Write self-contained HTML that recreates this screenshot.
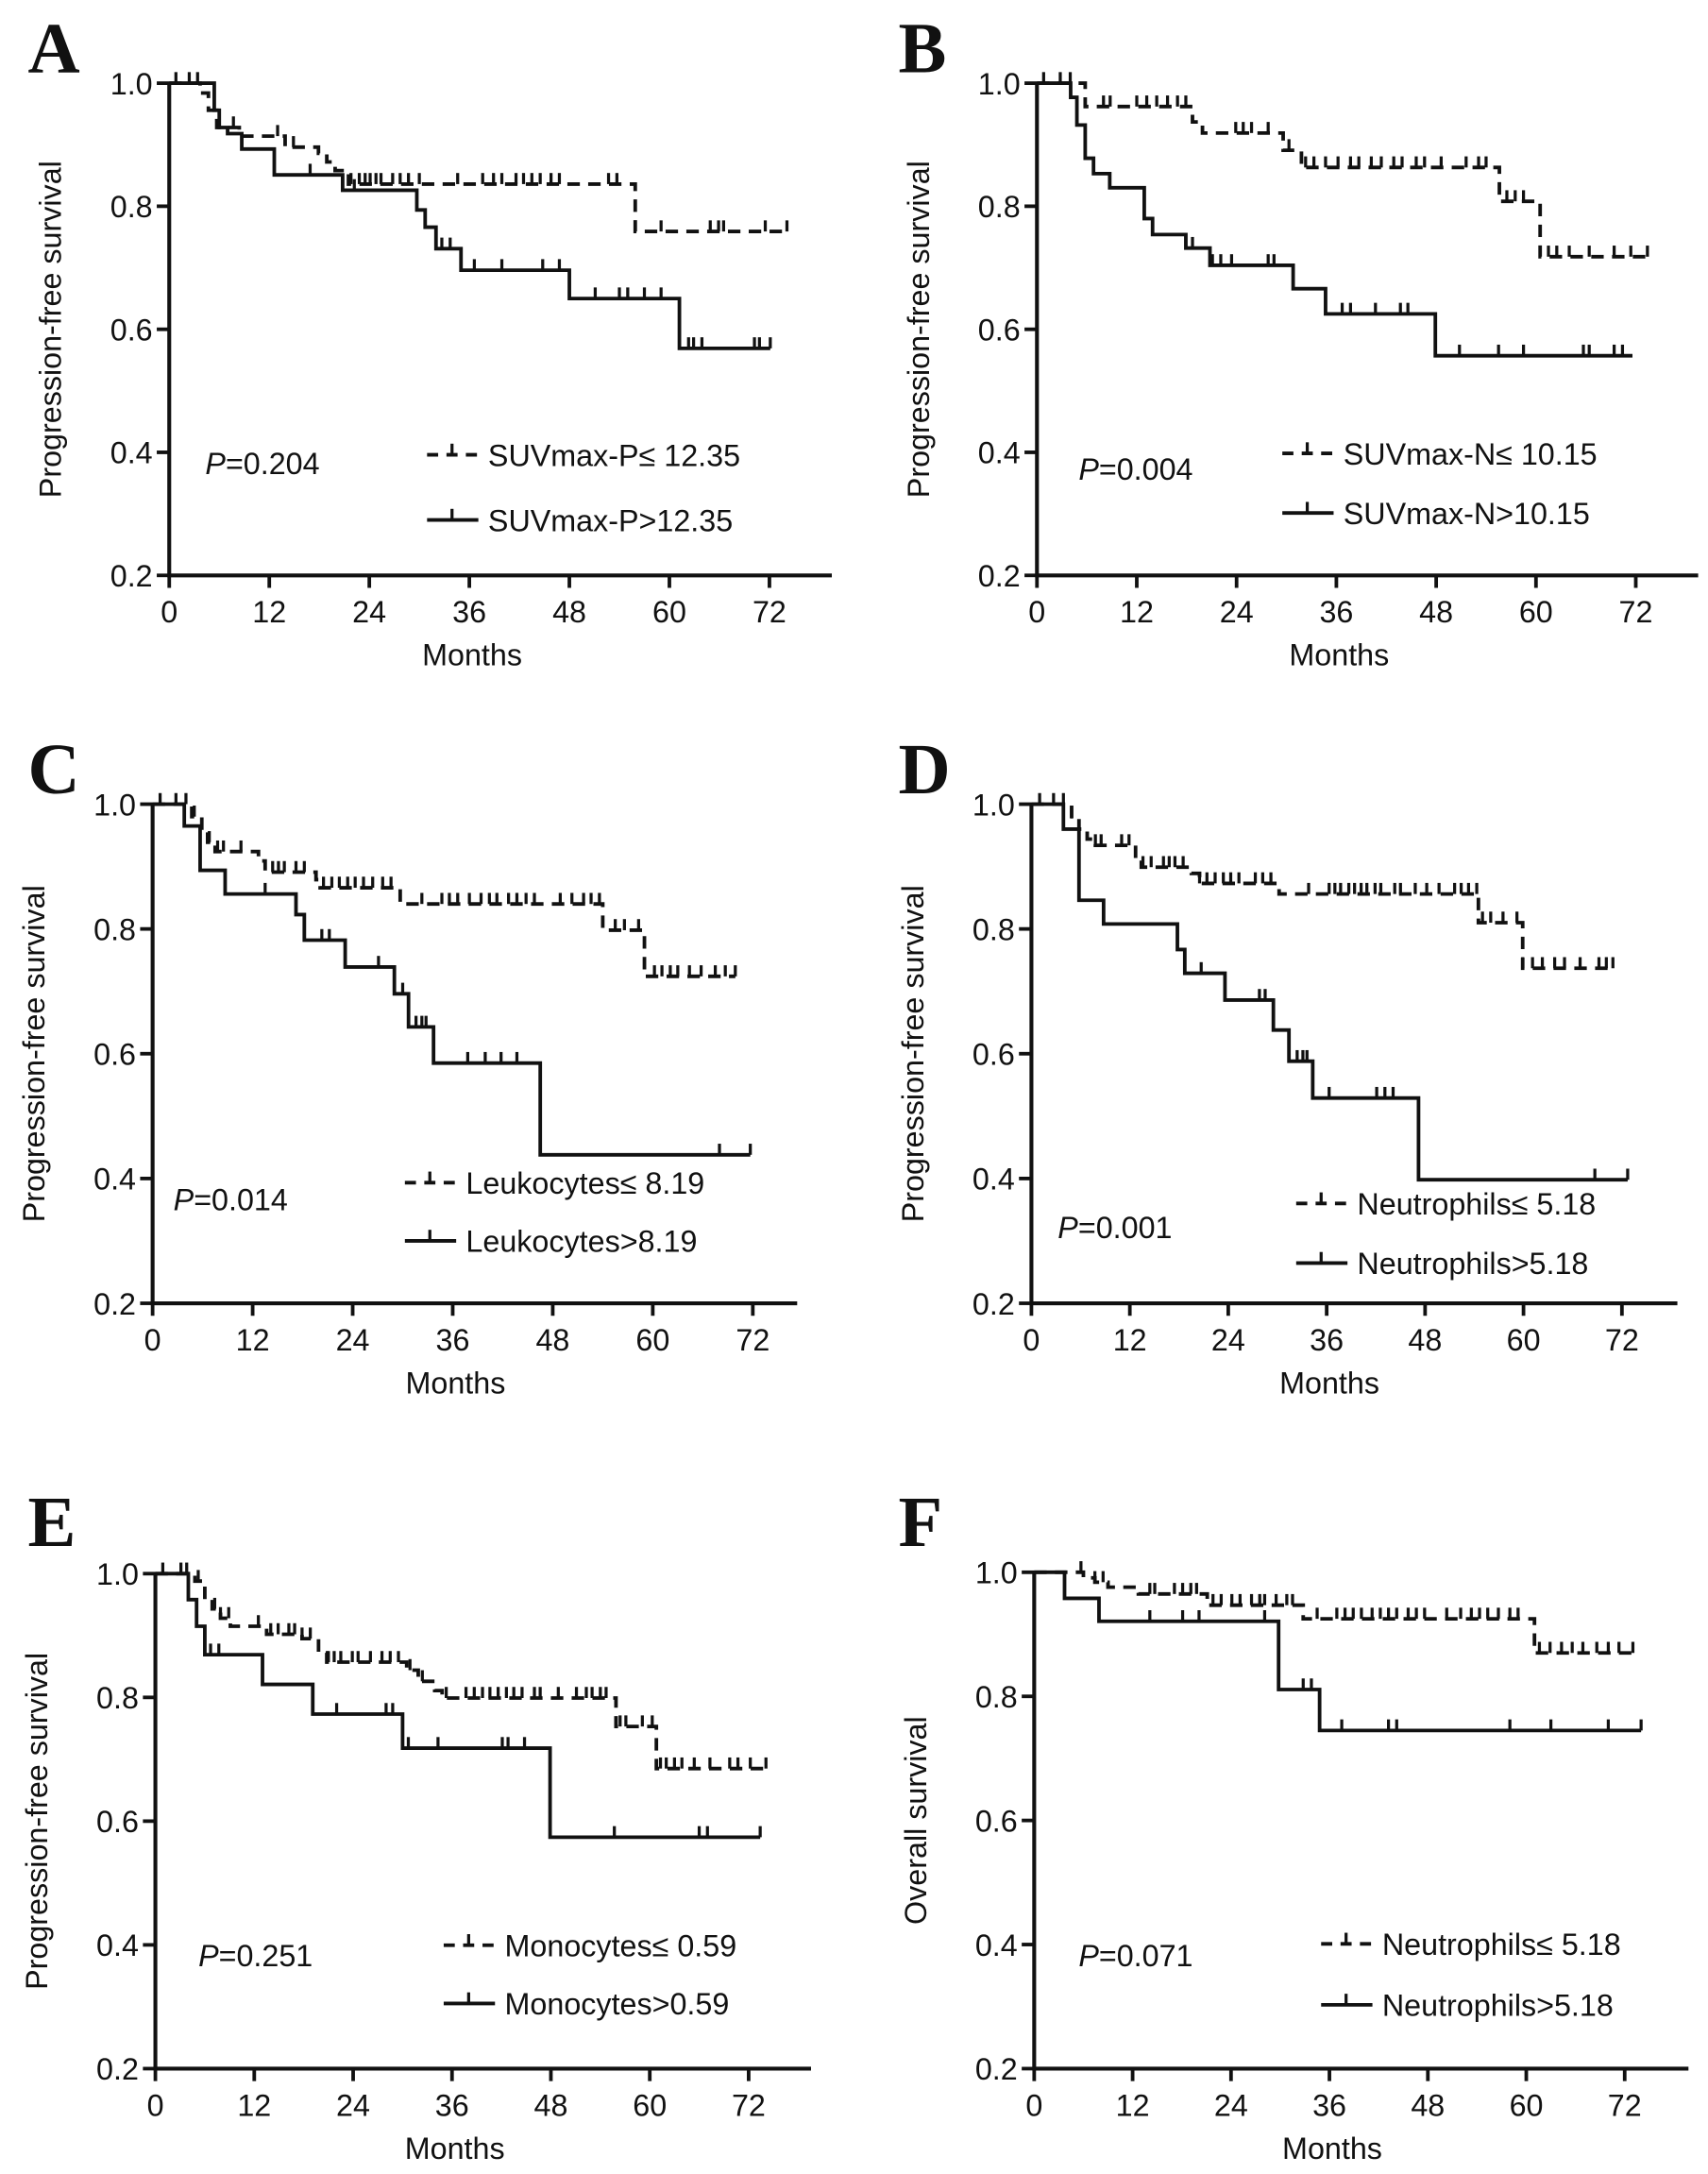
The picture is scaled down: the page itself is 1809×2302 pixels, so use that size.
<!DOCTYPE html>
<html><head><meta charset="utf-8"><title>Kaplan-Meier curves</title>
<style>
html,body{margin:0;padding:0;background:#fff;}
svg{display:block;}
text{font-family:"Liberation Sans",Arial,sans-serif;fill:#111;}
.lt{font-family:"Liberation Serif","Times New Roman",serif;font-weight:bold;}
</style></head>
<body>
<svg id="fig" width="1809" height="2302" viewBox="0 0 1232 1568" xmlns="http://www.w3.org/2000/svg"></svg>
<script>
// ---------- data (months, survival) ----------
const xTicks = [0, 12, 24, 36, 48, 60, 72];
const yTicks = [0.2, 0.4, 0.6, 0.8, 1.0];
const yTickLabels = ["0.2", "0.4", "0.6", "0.8", "1.0"];

// Panel A
const aLowT = [3.7, 4.7, 5.7, 8.4, 13.9, 17.9, 18.9, 19.9, 21.5, 55.9];
const aLowS = [0.984, 0.956, 0.928, 0.914, 0.896, 0.886, 0.872, 0.858, 0.836, 0.759];
const aLowEnd = 74.1;
const aLowC = [0.8, 2.4, 3.4, 7.7, 13, 14.9, 21.8, 22.8, 23.5, 24.1, 24.8, 25.4, 26.8, 27.7, 28.7, 30, 34.6, 37.6, 38.9, 39.9, 41.6, 42.5, 43.5, 44.5, 45.8, 46.8, 52.7, 53.7, 59, 64.9, 65.9, 66.5, 71.5, 74.1];
const aHighT = [5.4, 6.0, 7.0, 8.7, 12.6, 20.8, 29.7, 30.7, 32, 35, 48, 61.2];
const aHighS = [0.956, 0.928, 0.918, 0.893, 0.851, 0.826, 0.794, 0.766, 0.731, 0.696, 0.65, 0.569];
const aHighEnd = 72.1;
const aHighC = [16.9, 22.2, 32.7, 33.7, 36.6, 39.9, 44.8, 46.8, 51.1, 54, 55, 57, 59, 62.3, 62.9, 63.9, 70.2, 70.8, 72.1];

// Panel B
const bLowT = [5.8, 18.7, 19.9, 29.6, 31.8, 55.6, 60.5];
const bLowS = [0.962, 0.937, 0.919, 0.891, 0.863, 0.808, 0.718];
const bLowEnd = 73.6;
const bLowC = [0.8, 2.8, 4.0, 8.0, 8.8, 12, 13.2, 14.4, 15.7, 16.9, 17.9, 23.9, 24.8, 25.8, 27.8, 30.3, 32.3, 33.3, 34.7, 36.2, 37.7, 38.7, 40.2, 41.4, 42.9, 43.9, 45.6, 46.6, 48.6, 51.6, 53.1, 54, 56.5, 57.5, 58.5, 61.5, 62.5, 64, 66.4, 69.4, 71.4, 73.4];
const bHighT = [4.05, 4.8, 5.8, 6.8, 8.75, 12.9, 13.9, 17.9, 20.8, 30.8, 34.7, 47.9];
const bHighS = [0.977, 0.932, 0.878, 0.853, 0.83, 0.78, 0.754, 0.732, 0.704, 0.666, 0.625, 0.557];
const bHighEnd = 71.6;
const bHighC = [18.7, 21.1, 22.1, 23.4, 27.8, 28.5, 36.7, 37.7, 40.7, 43.7, 44.6, 50.8, 55.5, 58.5, 65.7, 66.4, 69.4, 70.4];

// Panel C
const cLowT = [4.7, 5.9, 6.6, 7.5, 12.7, 13.5, 19.6, 20.1, 29.7, 54, 59];
const cLowS = [0.98, 0.955, 0.939, 0.924, 0.909, 0.891, 0.879, 0.866, 0.84, 0.798, 0.724];
const cLowEnd = 69.9;
const cLowC = [0.9, 2.8, 4.0, 5, 6.8, 7.8, 8.5, 10.6, 14.4, 15.1, 15.8, 17.2, 18.2, 20.5, 21.5, 22.4, 23.4, 24.3, 25.3, 26.4, 27.6, 28.6, 32.3, 34.7, 35.6, 36.6, 38, 39.4, 40.4, 41.3, 42.7, 43.7, 44.8, 45.8, 48.9, 50.3, 51.7, 52.6, 53.6, 55.5, 56.6, 58.3, 60.2, 61.1, 62.1, 63, 64.4, 65.8, 67.5, 68.7, 69.9];
const cHighT = [3.8, 5.7, 8.7, 17.2, 18.2, 23.1, 29, 30.7, 33.7, 46.5];
const cHighS = [0.965, 0.894, 0.856, 0.823, 0.782, 0.739, 0.696, 0.643, 0.585, 0.438];
const cHighEnd = 71.7;
const cHighC = [13.5, 20.3, 21.2, 27.1, 30, 31.6, 32.3, 32.8, 37.8, 39.9, 41.8, 43.7, 68, 71.7];

// Panel D
const dLowT = [4.9, 5.8, 6.8, 7.8, 12.7, 13.4, 19.5, 20.5, 30.2, 54.5, 59.9];
const dLowS = [0.977, 0.96, 0.944, 0.934, 0.911, 0.899, 0.889, 0.873, 0.856, 0.81, 0.737];
const dLowEnd = 70.9;
const dLowC = [1, 2.7, 3.9, 4.9, 7.8, 8.5, 11, 11.9, 13.6, 14.6, 16.1, 16.8, 17.5, 18.5, 20.5, 21.4, 22.4, 23.4, 24.3, 25.3, 27.3, 28.2, 29.2, 33.8, 36.3, 37, 37.7, 38.7, 39.4, 40.2, 40.9, 41.9, 42.6, 44.3, 45, 46.8, 48.2, 49.7, 51.6, 52.4, 53.3, 54.3, 55, 56, 57.5, 59.2, 59.9, 61.1, 62.3, 63.8, 65, 66.9, 69.2, 70.1, 70.9];
const dHighT = [3.9, 5.8, 8.8, 17.8, 18.7, 23.6, 29.5, 31.4, 34.3, 47.2];
const dHighS = [0.96, 0.846, 0.808, 0.767, 0.729, 0.686, 0.638, 0.588, 0.529, 0.398];
const dHighEnd = 72.7;
const dHighC = [20.7, 27.8, 28.5, 32.4, 33.1, 33.6, 36.3, 42.1, 43.1, 44.1, 68.7, 72.7];

// Panel E
const eLowT = [4.8, 6, 6.9, 7.9, 9.1, 13.5, 17.8, 19.8, 20.8, 30.5, 31.9, 33.9, 34.8, 55.9, 60.8];
const eLowS = [0.988, 0.958, 0.943, 0.928, 0.915, 0.902, 0.895, 0.872, 0.857, 0.844, 0.826, 0.811, 0.799, 0.753, 0.685];
const eLowEnd = 74.1;
const eLowC = [0.9, 3.1, 3.8, 5.2, 7.2, 7.9, 8.9, 12.5, 14, 14.9, 16.2, 16.9, 17.8, 18.8, 21, 21.7, 22.5, 23.9, 24.6, 26.1, 27.5, 28.5, 29.5, 30.9, 32.4, 35.3, 37.7, 38.7, 39.7, 40.6, 41.6, 42.6, 43.5, 44.5, 46, 46.7, 48.9, 51.1, 52.3, 53, 54, 54.7, 56.4, 57.1, 59.1, 60.3, 61.3, 62, 63, 63.9, 65.4, 67.3, 69.7, 70.7, 72.2, 74.1];
const eHighT = [4, 5, 6, 13, 19.1, 30, 47.9];
const eHighS = [0.958, 0.915, 0.869, 0.821, 0.773, 0.718, 0.574];
const eHighEnd = 73.4;
const eHighC = [6.7, 7.7, 22, 28, 28.8, 30.7, 34.3, 42.1, 42.8, 44.8, 55.7, 66, 67, 73.4];

// Panel F
const fLowT = [6, 7.4, 9, 12.7, 21.1, 32.8, 61];
const fLowS = [0.991, 0.984, 0.976, 0.965, 0.947, 0.925, 0.87];
const fLowEnd = 73;
const fLowC = [5.7, 7.4, 8.4, 14.1, 14.7, 17.1, 18.1, 19.1, 19.8, 21.8, 22.8, 24.1, 25.1, 26.5, 27.5, 28.1, 29.5, 30.8, 31.5, 34.5, 36.9, 37.9, 38.9, 39.9, 41.2, 42.2, 43.2, 44.2, 45.6, 46.6, 47.6, 50.3, 52, 53.3, 54.3, 55.3, 56.6, 58, 59, 61.6, 62.9, 64.3, 65.6, 66.9, 68.6, 70, 71.3, 73];
const fHighT = [3.7, 7.9, 29.8, 34.8];
const fHighS = [0.958, 0.921, 0.811, 0.745];
const fHighEnd = 74;
const fHighC = [14.1, 18.1, 20.1, 28.1, 32.8, 33.8, 37.5, 43.2, 44.2, 58, 63, 70, 74];

// ---------- drawing ----------
const NS = "http://www.w3.org/2000/svg";
const svg = document.getElementById("fig");
function mk(tag, attrs, parent) {
  const e = document.createElementNS(NS, tag);
  for (const k in attrs) e.setAttribute(k, attrs[k]);
  (parent || svg).appendChild(e);
  return e;
}

function stepPath(T, S, end, sx, sy) {
  let d = "M" + sx(0) + "," + sy(1);
  for (let i = 0; i < T.length; i++) {
    d += " H" + sx(T[i]) + " V" + sy(S[i]);
  }
  d += " H" + sx(end);
  return d;
}
function survAt(T, S, t) {
  let s = 1;
  for (let i = 0; i < T.length; i++) { if (T[i] <= t) s = S[i]; }
  return s;
}

function panel(cfg) {
  const g = mk("g", {});
  
  
  const sx = t => cfg.x0 + (t / 72) * (cfg.x72 - cfg.x0);
  const sy = v => cfg.y02 + (v - 0.2) / 0.8 * (cfg.y1 - cfg.y02);

  const L = mk("text", {x: cfg.lx, y: cfg.ly, "font-size": 52, class: "lt"}, g);
  L.textContent = cfg.letter;
  
  

  const ax = mk("path", {d: "M" + cfg.x0 + "," + (cfg.y1 - 1) + " V" + cfg.y02 + " H" + cfg.xr, fill: "none", stroke: "#111", "stroke-width": 2.8}, g);
  
  

  yTicks.forEach((v, i) => {
    const y = sy(v);
    const tk = mk("line", {x1: cfg.x0 - 9, x2: cfg.x0, y1: y, y2: y, stroke: "#111", "stroke-width": 2.6}, g);
    
    
    const tl = mk("text", {x: cfg.x0 - 12, y: y + 8, "font-size": 22, "text-anchor": "end"}, g);
    tl.textContent = yTickLabels[i];
    
    
  });
  xTicks.forEach(t => {
    const x = sx(t);
    const tk = mk("line", {x1: x, x2: x, y1: cfg.y02, y2: cfg.y02 + 9, stroke: "#111", "stroke-width": 2.6}, g);
    
    
    const tl = mk("text", {x: x, y: cfg.y02 + 34, "font-size": 22, "text-anchor": "middle"}, g);
    tl.textContent = String(t);
    
    
  });
  const xt = mk("text", {x: (cfg.x0 + cfg.x72) / 2 + 2, y: cfg.y02 + 65, "font-size": 22, "text-anchor": "middle"}, g);
  xt.textContent = "Months";
  
  
  const yc = (cfg.y1 + cfg.y02) / 2;
  const yt = mk("text", {x: 0, y: 0, "font-size": 22, "text-anchor": "middle", transform: "translate(" + (cfg.x0 - 78) + "," + yc + ") rotate(-90)"}, g);
  yt.textContent = cfg.ytitle;
  
  

  function series(T, S, end, C, dashed, name) {
    const p = mk("path", {d: stepPath(T, S, end, sx, sy), fill: "none", stroke: "#111", "stroke-width": 2.6, "stroke-dasharray": dashed ? "9 6" : "none"}, g);
    
    
    C.forEach(t => {
      const x = sx(t), y = sy(survAt(T, S, t));
      const c = mk("line", {x1: x, x2: x, y1: y, y2: y - 8, stroke: "#111", "stroke-width": 2.2}, g);
      
      
    });
  }
  series(cfg.lowT, cfg.lowS, cfg.lowEnd, cfg.lowC, true, 'low-group');
  series(cfg.highT, cfg.highS, cfg.highEnd, cfg.highC, false, 'high-group');

  const pt = mk("text", {x: cfg.px, y: cfg.py, "font-size": 22}, g);
  
  
  const pi = mk("tspan", {"font-style": "italic"}, pt); pi.textContent = "P";
  const pr = mk("tspan", {}, pt); pr.textContent = "=" + cfg.p;

  const lg = [[cfg.ley1, true, cfg.lab1, 'legend-entry-low'], [cfg.ley2, false, cfg.lab2, 'legend-entry-high']];
  lg.forEach(([y, dashed, lab, nm]) => {
    const e = mk("g", {}, g);
    
    
    mk("line", {x1: cfg.legx, x2: cfg.legx + 37, y1: y, y2: y, stroke: "#111", "stroke-width": 2.6, "stroke-dasharray": dashed ? "8 6" : "none"}, e);
    mk("line", {x1: cfg.legx + 18, x2: cfg.legx + 18, y1: y, y2: y - 8, stroke: "#111", "stroke-width": 2.2}, e);
    const t = mk("text", {x: cfg.legx + 44, y: y + 8, "font-size": 22}, e);
    t.textContent = lab;
  });
}

const PFS = "Progression-free survival";
panel({letter: "A", lx: 20, ly: 52, x0: 122, x72: 555, y1: 60, y02: 415, xr: 600, ytitle: PFS,
  lowT: aLowT, lowS: aLowS, lowEnd: aLowEnd, lowC: aLowC, highT: aHighT, highS: aHighS, highEnd: aHighEnd, highC: aHighC,
  px: 148, py: 342, p: "0.204", legx: 308, ley1: 328, ley2: 375, lab1: "SUVmax-P\u2264 12.35", lab2: "SUVmax-P>12.35"});
panel({letter: "B", lx: 648, ly: 52, x0: 748, x72: 1180, y1: 60, y02: 415, xr: 1225, ytitle: PFS,
  lowT: bLowT, lowS: bLowS, lowEnd: bLowEnd, lowC: bLowC, highT: bHighT, highS: bHighS, highEnd: bHighEnd, highC: bHighC,
  px: 778, py: 346, p: "0.004", legx: 925, ley1: 327, ley2: 370, lab1: "SUVmax-N\u2264 10.15", lab2: "SUVmax-N>10.15"});
panel({letter: "C", lx: 20, ly: 572, x0: 110, x72: 543, y1: 580, y02: 940, xr: 575, ytitle: PFS,
  lowT: cLowT, lowS: cLowS, lowEnd: cLowEnd, lowC: cLowC, highT: cHighT, highS: cHighS, highEnd: cHighEnd, highC: cHighC,
  px: 125, py: 873, p: "0.014", legx: 292, ley1: 853, ley2: 895, lab1: "Leukocytes\u2264 8.19", lab2: "Leukocytes>8.19"});
panel({letter: "D", lx: 648, ly: 572, x0: 744, x72: 1170, y1: 580, y02: 940, xr: 1210, ytitle: PFS,
  lowT: dLowT, lowS: dLowS, lowEnd: dLowEnd, lowC: dLowC, highT: dHighT, highS: dHighS, highEnd: dHighEnd, highC: dHighC,
  px: 763, py: 893, p: "0.001", legx: 935, ley1: 868, ley2: 911, lab1: "Neutrophils\u2264 5.18", lab2: "Neutrophils>5.18"});
panel({letter: "E", lx: 20, ly: 1115, x0: 112, x72: 540, y1: 1135, y02: 1492, xr: 585, ytitle: PFS,
  lowT: eLowT, lowS: eLowS, lowEnd: eLowEnd, lowC: eLowC, highT: eHighT, highS: eHighS, highEnd: eHighEnd, highC: eHighC,
  px: 143, py: 1418, p: "0.251", legx: 320, ley1: 1403, ley2: 1445, lab1: "Monocytes\u2264 0.59", lab2: "Monocytes>0.59"});
panel({letter: "F", lx: 648, ly: 1115, x0: 746, x72: 1172, y1: 1134, y02: 1492, xr: 1218, ytitle: "Overall survival",
  lowT: fLowT, lowS: fLowS, lowEnd: fLowEnd, lowC: fLowC, highT: fHighT, highS: fHighS, highEnd: fHighEnd, highC: fHighC,
  px: 778, py: 1418, p: "0.071", legx: 953, ley1: 1402, ley2: 1446, lab1: "Neutrophils\u2264 5.18", lab2: "Neutrophils>5.18"});
</script>
</body></html>
